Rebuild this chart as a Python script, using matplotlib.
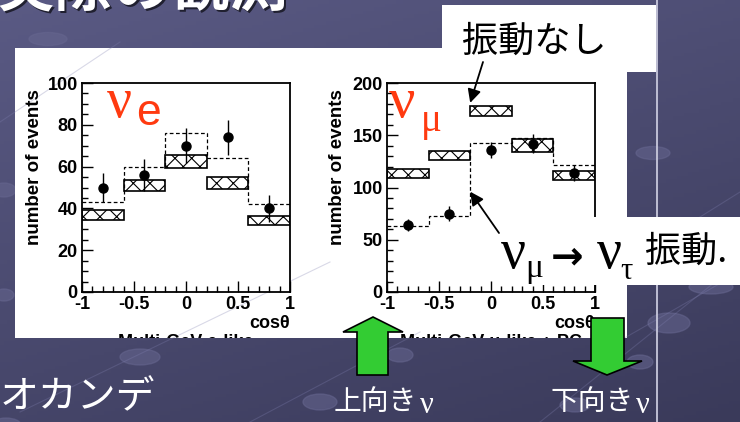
import numpy as np
import matplotlib
matplotlib.use("Agg")
import matplotlib.pyplot as plt
from matplotlib.patches import Rectangle, Polygon, Ellipse

plt.rcParams['font.family'] = 'Liberation Sans'
plt.rcParams['axes.unicode_minus'] = False
plt.rcParams['hatch.linewidth'] = 0.8

# cos(theta) bins
bin_edges = [-1.0, -0.6, -0.2, 0.2, 0.6, 1.0]
bin_centers = [-0.8, -0.4, 0.0, 0.4, 0.8]
x_ticks = [-1, -0.5, 0, 0.5, 1]
x_tick_labels = ['-1', '-0.5', '0', '0.5', '1']

# nu_e (Multi-GeV e-like)
e_data = [50, 56, 70, 74, 40]
e_err = [7, 7.5, 8.5, 8.5, 6.5]
e_mc_low = [34.5, 48.5, 59.5, 49.5, 32]
e_mc_high = [39, 53.5, 65.5, 55, 36.5]
e_osc = [43, 60, 76, 64, 42]

# nu_mu (Multi-GeV mu-like + PC)
mu_data = [64, 75, 136, 142, 114]
mu_err = [6, 7, 8, 9, 8]
mu_mc_low = [109, 126, 168, 134, 107]
mu_mc_high = [118, 135, 178, 146, 116]
mu_osc = [63, 73, 143, 147, 122]

W, H = 740, 422
JP = ['Noto Sans CJK JP', 'DejaVu Sans']
RED = '#ff3a10'

fig = plt.figure(figsize=(7.4, 4.22), dpi=100)

# 背景 (スライド)
bg = fig.add_axes([0, 0, 1, 1], zorder=-10)
yy, xx = np.mgrid[0:1:120j, 0:1:200j]
t = 0.65 * yy + 0.35 * xx
c_top = np.array([0x5a, 0x5a, 0x84]) / 255
c_bot = np.array([0x3a, 0x3a, 0x5a]) / 255
bg.imshow(c_top + (c_bot - c_top) * t[..., None], extent=[0, W, 0, H], aspect='auto')
for (x0, y0, x1, y1) in [(0, 300, 120, 380), (20, 10, 330, 160), (250, 0, 420, 90),
                         (540, 0, 740, 160), (600, 70, 740, 150), (660, 180, 740, 230)]:
    bg.plot([x0, x1], [y0, y1], color='#8080b0', lw=0.8, alpha=0.3)
for (cx, cy, w, h) in [(48, 39, 38, 13), (140, 357, 40, 16), (320, 402, 34, 16),
                       (669, 323, 42, 20), (575, 405, 30, 14), (640, 362, 26, 14),
                       (711, 287, 44, 14), (653, 153, 34, 13), (4, 190, 24, 14),
                       (4, 295, 20, 12), (6, 425, 30, 14), (400, 355, 26, 14)]:
    bg.add_patch(Ellipse((cx, H - cy), w, h, color='#66668f', alpha=0.55))
bg.plot([657, 657], [0, H], color='#c8c8dc', lw=1.3)
bg.add_patch(Rectangle((15, H - 338), 612, 290, fc='white', ec='none'))
bg.add_patch(Rectangle((442, H - 72), 214, 67, fc='white', ec='none'))
bg.set_xlim(0, W)
bg.set_ylim(0, H)
bg.axis('off')

# タイトル (上で切れている)
bg.text(-2, H - 8, '実際の観測', family=JP, size=42, weight='bold', color='#202030', va='baseline')
bg.text(-4, H - 6, '実際の観測', family=JP, size=42, weight='bold', color='white', va='baseline')


def draw_panel(ax, data, err, low, high, osc, ymax, major, minor, ylabel_x):
    ax.bar(bin_centers, np.subtract(high, low), bottom=low, width=0.4, color='white',
           edgecolor='black', hatch='xx', lw=1.2, zorder=2)
    ax.stairs(osc, bin_edges, baseline=None, color='black', ls=(0, (3, 2)), lw=0.9, zorder=3)
    ax.errorbar(bin_centers, data, yerr=err, fmt='o', color='black', ms=6.5,
                elinewidth=1.0, capsize=0, zorder=4)
    ax.set_xlim(-1, 1)
    ax.set_ylim(0, ymax)
    ax.set_xticks(x_ticks)
    ax.set_xticklabels(x_tick_labels)
    ax.set_xticks(np.arange(-1, 1.01, 0.1), minor=True)
    ax.set_yticks(np.arange(0, ymax + 1, major))
    ax.set_yticks(np.arange(0, ymax + 1, minor), minor=True)
    ax.tick_params(which='both', direction='in', top=False, right=False, width=1.0)
    ax.tick_params(which='major', length=8, labelsize=13, pad=3)
    ax.tick_params(which='minor', length=4)
    for lab in ax.get_xticklabels() + ax.get_yticklabels():
        lab.set_fontweight('bold')
    for s in ax.spines.values():
        s.set_linewidth(1.3)
    ax.set_ylabel('number of events', fontsize=13.5, fontweight='bold', va='center')
    ax.yaxis.set_label_coords(ylabel_x, 0.6)
    ax.text(1.0, -0.15, 'cosθ', transform=ax.transAxes, ha='right', va='center',
            fontsize=13, fontweight='bold')


ax1 = fig.add_axes([82 / W, (H - 292) / H, 208 / W, 209 / H])
ax2 = fig.add_axes([387 / W, (H - 292) / H, 208 / W, 209 / H])
draw_panel(ax1, e_data, e_err, e_mc_low, e_mc_high, e_osc, 100, 20, 5, -0.226)
draw_panel(ax2, mu_data, mu_err, mu_mc_low, mu_mc_high, mu_osc, 200, 50, 10, -0.236)

# 上に重ねる層 (ピクセル座標)
ov = fig.add_axes([0, 0, 1, 1], zorder=5)
ov.set_xlim(0, W)
ov.set_ylim(0, H)
ov.axis('off')
ov.add_patch(Rectangle((497, H - 285), 243, 68, fc='white', ec='none'))

# パネル下端で切れた文字
clip_rect = Rectangle((15, H - 338), 612, 290, transform=ov.transData)
for cx, s in [(186, 'Multi-GeV e-like'), (491, 'Multi-GeV μ-like + PC')]:
    tx = ov.text(cx, H - 334, s, ha='center', va='top', fontsize=13, fontweight='bold',
                 clip_on=True)
    tx.set_clip_path(clip_rect)

# ν ラベル
ov.text(107, H - 117, 'ν', family='Liberation Serif', size=40, color=RED, va='baseline')
ov.text(136, H - 125, 'e', size=32, color=RED, va='baseline')
ov.text(389, H - 117, 'ν', family='Liberation Serif', size=42, color=RED, va='baseline')
ov.text(421, H - 131, 'μ', family='Liberation Serif', size=28, color=RED, va='baseline')

# 注釈
ov.text(462, H - 42, '振動なし', family=JP, size=26, va='center')
arrow_style = dict(arrowstyle='-|>', color='black', lw=1.3, mutation_scale=20,
                   shrinkA=0, shrinkB=0)
ov.annotate('', xy=(-0.2, 181), xycoords=ax2.transData,
            xytext=(483, H - 62), textcoords='data', arrowprops=arrow_style)
ov.annotate('', xy=(-0.2, 96), xycoords=ax2.transData,
            xytext=(499, H - 233), textcoords='data', arrowprops=arrow_style)
ov.text(501, H - 268, 'ν', family='Liberation Serif', size=40, va='baseline')
ov.text(525, H - 277, 'μ', family='Liberation Serif', size=24, va='baseline')
ov.text(551, H - 257, '→', family='DejaVu Sans', weight='bold', size=28, va='center')
ov.text(597, H - 268, 'ν', family='Liberation Serif', size=40, va='baseline')
ov.text(620, H - 279, 'τ', family='Liberation Serif', size=22, va='baseline')
ov.text(645, H - 252, '振動.', family=JP, size=26, va='center')

# 緑の矢印
ov.add_patch(Polygon([(357, H - 375), (388, H - 375), (388, H - 332), (403, H - 332),
                      (373, H - 317), (343, H - 332), (357, H - 332)],
                     closed=True, fc='#33cc33', ec='black', lw=1.2))
ov.add_patch(Polygon([(591, H - 318), (624, H - 318), (624, H - 361), (642, H - 361),
                      (607, H - 375), (573, H - 361), (591, H - 361)],
                     closed=True, fc='#33cc33', ec='black', lw=1.2))

# 下の文字
ov.text(0, H - 397, 'オカンデ', family=JP, size=28, color='white', va='center')
ov.text(334, H - 402, '上向き', family=JP, size=20, color='white', va='center')
ov.text(420, H - 413, 'ν', family='Liberation Serif', size=22, color='white', va='baseline')
ov.text(551, H - 402, '下向き', family=JP, size=20, color='white', va='center')
ov.text(636, H - 413, 'ν', family='Liberation Serif', size=22, color='white', va='baseline')

fig.savefig('out.png', dpi=100)
